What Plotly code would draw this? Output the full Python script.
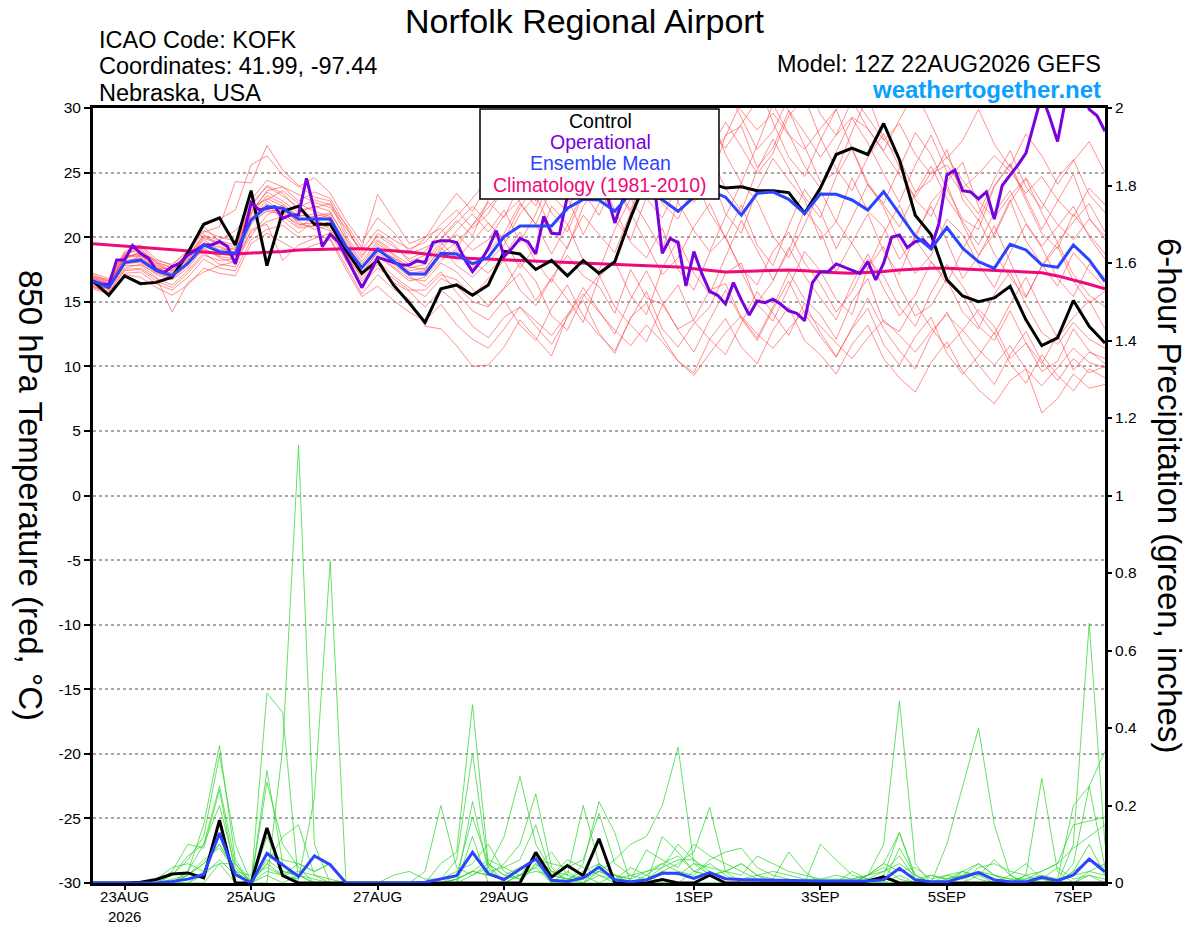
import pandas as pd
import plotly.graph_objects as go
from plotly.subplots import make_subplots

# 6-hourly GEFS output from 12Z 22AUG2026, operational run is 3-hourly
times = pd.date_range("2026-08-22 12:00", periods=65, freq="6h")
times_op = pd.date_range("2026-08-22 12:00", periods=129, freq="3h")

tick_dates = ["2026-08-23", "2026-08-25", "2026-08-27", "2026-08-29",
              "2026-09-01", "2026-09-03", "2026-09-05", "2026-09-07"]
tick_labels = ["23AUG<br>2026", "25AUG", "27AUG", "29AUG", "1SEP", "3SEP", "5SEP", "7SEP"]

temp_ticks = [-30, -25, -20, -15, -10, -5, 0, 5, 10, 15, 20, 25, 30]
temp_tick_text = ["-30", "-25", "-20", "-15", "-10", "-5", "0", "5", "10", "15", "20", "25", "30"]

# 850 hPa temperature (C)
control_t = [
    16.6, 15.5, 17.0, 16.4, 16.5, 16.9, 18.8, 21.0, 21.5, 19.4,
    23.6, 17.8, 22.0, 22.4, 21.0, 21.0, 19.0, 17.2, 18.2, 16.3,
    14.9, 13.4, 16.0, 16.3, 15.5, 16.3, 18.9, 18.7, 17.5, 18.2,
    17.0, 18.2, 17.2, 18.1, 21.5, 24.5, 25.5, 25.2, 25.4, 24.2,
    23.8, 23.9, 23.6, 23.6, 23.45, 21.85, 23.8, 26.4, 26.9, 26.4,
    28.8, 26.0, 21.7, 20.2, 16.7, 15.45, 15.0, 15.3, 16.2, 13.6,
    11.6, 12.2, 15.1, 13.1, 11.8,
]
mean_t = [
    16.61, 16.12, 18.03, 18.24, 17.41, 17.02, 17.98, 19.4, 18.88, 18.75,
    21.33, 22.36, 22.24, 21.41, 21.41, 21.41, 19.27, 17.64, 19.06, 18.16,
    17.15, 17.15, 18.75, 18.7, 17.93, 18.44, 20.04, 20.87, 20.87, 20.87,
    22.24, 22.93, 22.88, 22.0, 23.4, 23.6, 22.9, 22.0, 23.1, 23.6,
    23.1, 21.7, 23.4, 23.5, 22.93, 21.85, 23.34, 23.32, 22.88, 22.1,
    23.52, 21.85, 20.09, 19.09, 20.74, 19.14, 18.1, 17.59, 19.45, 19.01,
    17.85, 17.67, 19.4, 18.24, 16.56,
]
clim_t = [
    19.5, 19.4, 19.3, 19.2, 19.1, 19.0, 18.9, 18.8, 18.75, 18.7,
    18.75, 18.8, 18.9, 19.0, 19.05, 19.1, 19.1, 19.1, 19.05, 18.95,
    18.85, 18.7, 18.5, 18.4, 18.35, 18.3, 18.25, 18.2, 18.15, 18.1,
    18.05, 18.0, 17.95, 17.93, 17.9, 17.85, 17.8, 17.7, 17.55, 17.4,
    17.3, 17.35, 17.4, 17.45, 17.45, 17.4, 17.3, 17.25, 17.2, 17.25,
    17.35, 17.45, 17.55, 17.6, 17.6, 17.55, 17.5, 17.45, 17.4, 17.35,
    17.25, 17.0, 16.7, 16.35, 16.0,
]
oper_t = [
    16.6, 16.4, 16.3, 18.24, 18.24, 19.35, 18.75, 18.37, 17.46, 17.26,
    17.72, 17.98, 18.62, 19.01, 19.4, 19.4, 19.66, 19.27, 17.93, 20.04,
    22.67, 22.11, 22.24, 22.36, 21.46, 21.72, 21.72, 24.56, 22.11, 19.27,
    20.22, 19.66, 18.49, 17.33, 16.09, 17.2, 18.44, 18.24, 18.03, 17.85,
    17.85, 18.18, 18.03, 19.58, 19.73, 19.73, 19.58, 18.29, 17.33, 18.11,
    19.14, 20.5, 18.5, 19.14, 19.9, 19.65, 18.7, 21.6, 20.3, 20.25,
    23.2, 24.2, 24.8, 24.3, 23.6, 23.3, 21.1, 22.9, 24.3, 25.0,
    25.4, 24.0, 18.75, 19.9, 19.58, 16.22, 18.88, 17.2, 15.8, 15.5,
    14.83, 16.48, 15.14, 13.98, 15.06, 14.93, 15.2, 14.8, 14.3, 14.11,
    13.54, 16.48, 17.33, 17.33, 17.93, 17.67, 17.41, 17.2, 18.1, 16.69,
    17.98, 19.99, 20.17, 19.2, 19.65, 19.8, 19.14, 21.07, 24.8, 25.2,
    23.6, 23.5, 22.96, 23.5, 21.4, 24.0, 24.8, 25.6, 26.5, 28.8,
    31.0, 29.3, 27.4, 30.6, 32.0, 31.5, 29.9, 29.4, 28.2,
]

# ensemble members, temperature (first 26 steps, then the rest)
r01 = [16.8, 16.4, 18.3, 18.9, 17.9, 17.3, 18.2, 19.9, 19.5, 19.0, 22.0, 23.5, 22.8, 21.9, 22.4, 22.0, 19.8, 17.9, 19.5, 18.6, 17.6, 17.9, 19.4, 20.2, 19.0, 19.8,
       21.7, 22.9, 23.6, 24.8, 25.9, 27.1, 26.4, 25.3, 27.8, 28.9, 29.5, 27.7, 28.6, 30.4, 31.2, 29.8, 28.3, 29.6, 27.9, 26.8, 28.4, 29.9, 31.0, 29.2, 27.5, 28.8, 26.4, 24.9, 25.6, 23.8, 24.9, 26.3, 25.1, 23.4, 24.7, 22.9, 21.6, 23.8, 22.5]
r02 = [16.2, 15.8, 17.4, 17.5, 16.6, 16.1, 17.2, 18.6, 18.2, 18.3, 20.4, 21.2, 21.6, 20.7, 20.9, 20.5, 18.7, 16.8, 18.2, 17.0, 16.1, 15.4, 16.8, 16.2, 15.0, 14.6,
       16.0, 17.2, 15.1, 16.9, 18.6, 17.0, 16.2, 14.1, 17.5, 15.3, 14.8, 12.9, 13.6, 15.9, 16.4, 13.8, 12.2, 14.6, 17.3, 15.2, 14.0, 12.1, 15.0, 16.8, 13.4, 12.7, 14.9, 13.0, 11.4, 12.8, 14.4, 13.1, 10.6, 11.8, 9.6, 10.4, 12.9, 11.2, 10.2]
r03 = [17.0, 16.7, 18.7, 19.3, 18.1, 17.6, 18.8, 20.4, 20.8, 24.3, 24.2, 27.1, 25.2, 24.0, 23.1, 22.8, 20.4, 19.0, 20.6, 19.8, 19.1, 19.6, 21.0, 22.1, 20.7, 21.8,
       23.9, 24.6, 23.2, 25.5, 26.8, 25.9, 28.2, 27.0, 26.1, 27.4, 29.0, 30.5, 29.2, 28.0, 26.9, 28.7, 30.6, 31.5, 29.8, 28.1, 26.2, 27.9, 29.3, 28.4, 26.6, 24.8, 23.1, 25.0, 26.2, 24.4, 22.8, 21.5, 23.2, 24.6, 22.7, 21.0, 19.8, 21.4, 20.1]
r04 = [16.4, 15.9, 17.8, 17.8, 16.9, 14.2, 16.5, 17.3, 17.8, 18.1, 20.1, 21.7, 22.5, 21.0, 20.8, 21.2, 18.3, 16.6, 17.9, 16.5, 15.8, 14.6, 15.9, 14.9, 13.1, 12.2,
       13.8, 14.6, 13.5, 12.4, 14.0, 15.6, 14.2, 12.8, 11.6, 13.2, 11.9, 10.4, 9.3, 11.0, 12.6, 13.9, 12.5, 11.4, 12.9, 14.3, 13.1, 11.8, 10.6, 12.2, 13.6, 12.4, 11.1, 12.7, 14.0, 12.8, 11.3, 10.1, 11.6, 9.8, 8.5, 9.9, 11.4, 10.3, 9.9]
r05 = [16.9, 16.5, 18.6, 18.5, 17.6, 17.5, 18.7, 20.8, 19.7, 19.4, 22.6, 23.9, 23.2, 22.3, 22.9, 22.5, 21.0, 19.2, 23.3, 21.4, 19.5, 20.0, 20.7, 19.2, 21.0, 22.7,
       21.5, 24.1, 25.3, 23.2, 22.0, 25.0, 26.1, 23.8, 21.9, 24.8, 27.3, 26.0, 22.7, 24.0, 27.9, 28.6, 25.4, 26.9, 29.8, 27.1, 24.3, 25.0, 28.2, 30.9, 27.6, 26.1, 23.5, 24.4, 26.8, 22.9, 21.3, 24.0, 25.7, 23.1, 20.6, 22.8, 24.9, 21.5, 19.8]
r06 = [16.5, 16.1, 18.1, 18.0, 17.1, 16.7, 17.6, 19.2, 18.4, 18.0, 21.0, 22.1, 22.0, 21.2, 20.6, 20.9, 19.1, 17.3, 18.8, 17.9, 17.0, 16.2, 17.3, 15.7, 14.3, 13.6,
       15.1, 13.2, 12.0, 14.5, 16.3, 13.9, 12.4, 11.2, 13.7, 15.8, 12.9, 11.5, 13.3, 14.6, 17.2, 18.0, 14.8, 13.5, 16.1, 18.9, 17.4, 15.2, 14.0, 17.6, 19.3, 16.2, 13.9, 14.7, 16.8, 15.5, 13.1, 12.0, 14.3, 11.8, 10.2, 12.5, 9.7, 11.1, 10.6]
r07 = [16.7, 16.3, 18.5, 18.7, 17.7, 17.1, 18.4, 19.8, 19.0, 19.1, 22.3, 22.9, 23.6, 22.6, 22.0, 21.6, 19.6, 17.7, 19.3, 18.4, 17.4, 17.6, 19.0, 20.5, 21.8, 20.4,
       22.1, 19.6, 21.8, 24.7, 23.1, 20.2, 22.6, 25.8, 26.4, 23.0, 21.5, 24.1, 27.0, 25.2, 21.8, 20.3, 23.7, 26.1, 24.4, 22.9, 19.8, 21.2, 24.6, 22.0, 20.8, 18.3, 19.9, 22.7, 24.1, 21.0, 18.6, 20.3, 22.9, 19.7, 17.9, 16.2, 18.8, 17.4, 16.1]
r08 = [16.3, 16.0, 17.6, 17.9, 17.2, 16.9, 17.9, 19.0, 18.6, 18.9, 21.5, 22.6, 21.3, 20.3, 21.3, 21.8, 18.9, 16.1, 18.5, 17.6, 16.6, 16.9, 18.2, 19.1, 18.1, 17.2,
       18.6, 20.4, 18.1, 16.5, 19.3, 21.7, 20.2, 18.8, 21.9, 19.5, 17.1, 18.4, 20.8, 22.6, 19.9, 17.6, 16.3, 18.9, 20.4, 18.0, 16.4, 14.2, 15.8, 18.3, 17.0, 14.6, 13.1, 15.7, 17.9, 16.2, 14.1, 12.5, 14.8, 16.9, 14.4, 12.2, 13.8, 15.1, 12.9]
r09 = [17.2, 16.8, 18.9, 19.4, 18.3, 17.8, 19.0, 20.5, 20.0, 19.7, 22.9, 24.4, 23.9, 22.8, 23.5, 23.0, 20.9, 18.6, 20.1, 19.3, 18.3, 18.9, 20.4, 21.6, 23.0, 24.5,
       25.9, 23.8, 26.7, 28.3, 25.4, 23.9, 27.2, 29.6, 27.0, 25.1, 28.4, 31.2, 29.0, 26.3, 27.8, 30.5, 32.1, 28.9, 26.2, 24.7, 27.5, 29.9, 26.8, 24.0, 22.6, 25.3, 28.1, 26.4, 23.7, 21.4, 20.6, 23.9, 25.6, 22.8, 20.3, 19.1, 21.8, 20.2, 18.7]
r10 = [16.0, 15.6, 17.2, 17.3, 16.4, 15.9, 16.9, 18.3, 17.6, 17.4, 19.8, 20.6, 20.9, 20.0, 20.1, 19.9, 17.8, 15.6, 17.1, 16.0, 15.2, 13.1, 12.9, 11.6, 10.0, 10.1,
       11.5, 13.6, 12.2, 10.8, 13.9, 15.1, 12.6, 11.0, 13.8, 14.9, 12.3, 10.4, 9.5, 12.1, 13.7, 11.5, 10.2, 12.8, 14.6, 12.0, 10.9, 9.4, 11.7, 13.2, 10.6, 9.1, 8.0, 10.3, 11.9, 9.6, 8.2, 7.1, 8.9, 9.8, 6.4, 7.5, 9.4, 8.3, 8.6]
r11 = [16.6, 16.2, 18.2, 18.4, 17.5, 17.2, 18.3, 19.6, 19.2, 18.7, 21.8, 23.2, 22.6, 21.6, 21.8, 21.5, 19.4, 17.6, 19.0, 18.1, 17.2, 17.4, 18.7, 19.6, 20.9, 22.3,
       23.7, 25.1, 22.8, 24.9, 27.3, 26.0, 28.7, 30.2, 27.4, 29.8, 32.0, 30.1, 27.6, 28.9, 31.7, 29.3, 26.8, 28.2, 30.8, 32.4, 29.5, 27.9, 30.6, 28.4, 26.7, 29.1, 31.3, 28.8, 26.1, 27.5, 29.9, 27.2, 25.4, 28.0, 26.3, 24.1, 25.9, 27.4, 25.0]
r12 = [16.1, 15.7, 17.5, 17.6, 16.8, 16.3, 17.4, 18.8, 17.9, 17.7, 20.6, 21.0, 18.2, 19.4, 19.9, 20.3, 18.2, 16.3, 17.6, 16.8, 15.9, 15.9, 17.1, 16.7, 15.4, 16.8,
       18.2, 15.9, 14.7, 16.8, 15.2, 13.4, 16.9, 18.1, 15.5, 14.0, 17.6, 19.8, 17.2, 15.6, 18.4, 21.3, 19.0, 16.7, 18.9, 22.1, 20.5, 17.3, 19.6, 21.8, 18.9, 17.1, 20.2, 22.4, 19.7, 16.8, 18.5, 20.9, 18.1, 15.4, 17.7, 19.3, 16.6, 14.9, 15.8]
r13 = [17.1, 16.6, 18.8, 19.0, 18.0, 17.7, 18.6, 20.1, 19.8, 20.5, 21.9, 23.6, 23.9, 23.3, 22.7, 22.3, 20.7, 18.9, 19.8, 18.9, 18.7, 19.2, 19.8, 21.1, 22.4, 21.1,
       19.8, 22.3, 24.1, 21.9, 20.4, 23.3, 25.6, 24.0, 22.1, 25.2, 27.1, 24.8, 23.5, 26.7, 28.9, 27.0, 24.9, 26.5, 29.4, 30.8, 27.7, 25.3, 23.6, 26.2, 28.0, 25.4, 22.9, 21.6, 24.3, 25.8, 22.4, 20.1, 22.7, 24.5, 21.9, 19.6, 21.2, 22.6, 20.4]
r14 = [16.4, 16.0, 17.9, 18.1, 17.3, 16.8, 17.8, 19.5, 18.7, 18.5, 21.2, 22.0, 21.8, 21.0, 21.1, 21.0, 18.5, 17.0, 18.6, 17.7, 16.8, 16.6, 18.0, 17.3, 16.0, 14.7,
       16.1, 18.0, 16.6, 13.9, 12.8, 15.4, 17.1, 14.6, 13.2, 11.9, 14.7, 16.3, 13.5, 12.1, 10.9, 13.4, 15.8, 14.1, 12.4, 14.9, 12.6, 10.8, 12.9, 14.5, 11.7, 10.1, 12.3, 13.8, 11.0, 9.4, 10.8, 12.6, 10.2, 8.7, 10.9, 9.3, 8.1, 9.8, 9.1]
r15 = [16.8, 16.4, 18.4, 18.6, 17.8, 17.4, 18.5, 20.2, 19.3, 18.8, 22.2, 23.0, 22.4, 21.7, 21.6, 21.9, 19.9, 18.1, 19.7, 18.7, 17.9, 18.2, 19.6, 18.3, 19.7, 21.1,
       19.8, 17.6, 19.3, 22.4, 21.0, 18.2, 17.4, 20.6, 23.0, 21.1, 19.0, 22.8, 24.6, 21.9, 20.0, 22.5, 19.4, 17.8, 20.9, 23.7, 22.0, 19.1, 21.5, 24.1, 22.3, 19.6, 17.2, 18.6, 21.4, 20.2, 17.9, 16.1, 18.8, 21.0, 19.2, 16.8, 15.4, 17.9, 16.9]
r16 = [16.6, 16.3, 18.0, 18.3, 17.5, 17.0, 18.1, 19.3, 18.8, 18.6, 21.4, 22.5, 22.1, 21.3, 21.6, 21.3, 19.2, 17.5, 19.2, 18.2, 17.3, 17.0, 18.5, 18.9, 17.6, 18.9,
       20.3, 22.6, 21.0, 18.7, 20.9, 23.5, 24.8, 22.1, 19.6, 18.4, 20.7, 17.5, 15.9, 18.8, 20.1, 17.3, 14.9, 16.6, 19.2, 17.0, 15.3, 13.6, 16.4, 18.7, 16.0, 13.9, 15.5, 18.1, 16.7, 14.2, 12.9, 15.6, 17.3, 14.8, 12.6, 11.7, 13.4, 12.1, 11.4]
r17 = [16.5, 16.0, 17.9, 18.6, 17.6, 17.2, 18.0, 19.1, 18.5, 18.3, 21.7, 22.8, 21.9, 20.8, 21.5, 20.6, 18.8, 17.1, 18.9, 18.4, 17.7, 17.5, 19.2, 17.8, 16.9, 18.1,
       19.4, 21.8, 23.2, 20.6, 19.1, 22.4, 24.0, 21.3, 19.8, 23.1, 25.4, 22.7, 20.5, 18.9, 21.6, 24.2, 22.8, 20.1, 18.4, 21.0, 23.6, 21.2, 19.5, 17.6, 20.3, 22.5, 19.8, 18.1, 16.4, 19.0, 21.4, 18.7, 16.9, 15.3, 17.8, 19.6, 17.1, 15.5, 14.6]
r18 = [16.9, 16.6, 18.4, 18.8, 18.2, 17.9, 18.9, 20.9, 21.4, 22.1, 25.6, 26.3, 24.8, 23.9, 24.6, 23.4, 21.3, 19.6, 21.5, 20.4, 18.9, 19.9, 21.8, 23.4, 22.0, 24.1,
       26.3, 23.9, 22.4, 25.7, 27.4, 24.6, 23.1, 26.8, 28.5, 25.3, 22.9, 24.7, 27.6, 29.8, 26.4, 24.2, 27.1, 30.3, 28.0, 25.5, 23.8, 26.6, 29.2, 27.3, 24.9, 22.7, 25.6, 27.9, 25.1, 23.4, 21.8, 24.5, 26.7, 23.9, 22.2, 24.6, 26.0, 23.3, 21.9]
r19 = [16.2, 15.7, 17.1, 16.9, 16.1, 15.5, 16.3, 17.6, 17.2, 17.0, 19.5, 20.3, 19.6, 18.9, 19.4, 19.8, 17.5, 15.4, 16.2, 15.1, 14.2, 13.5, 14.8, 13.2, 12.1, 11.4,
       12.9, 14.6, 13.1, 11.7, 13.8, 16.1, 14.3, 12.5, 15.2, 17.4, 15.0, 12.8, 11.1, 13.6, 15.9, 13.7, 12.0, 14.4, 16.6, 14.1, 12.3, 10.7, 13.0, 15.3, 12.9, 11.2, 9.8, 12.4, 14.2, 11.9, 10.1, 8.6, 10.9, 12.7, 10.4, 8.9, 10.6, 9.5, 10.0]
r20 = [16.7, 16.2, 18.6, 19.1, 18.0, 17.4, 18.5, 20.0, 19.6, 19.2, 22.4, 24.0, 23.4, 22.1, 22.3, 22.6, 20.1, 18.4, 20.3, 19.5, 18.1, 18.6, 19.9, 21.3, 20.1, 22.9,
       24.4, 22.7, 21.0, 23.8, 25.9, 23.5, 21.7, 24.3, 26.8, 25.0, 22.6, 21.4, 24.0, 26.3, 23.8, 22.0, 25.2, 27.6, 25.3, 23.1, 21.5, 24.7, 26.9, 24.2, 22.5, 20.8, 23.4, 25.5, 23.0, 21.2, 19.4, 21.9, 23.6, 21.1, 19.3, 20.8, 22.4, 20.0, 18.3]
red_members = [r01, r02, r03, r04, r05, r06, r07, r08, r09, r10,
               r11, r12, r13, r14, r15, r16, r17, r18, r19, r20]

# 6-hour precipitation (inches)
control_p = [
    0, 0, 0, 0.002, 0.009, 0.023, 0.026, 0.013, 0.162, 0,
    0, 0.142, 0.019, 0, 0, 0, 0, 0, 0, 0,
    0, 0, 0, 0, 0, 0, 0, 0, 0.079, 0.015,
    0.045, 0.019, 0.114, 0, 0, 0, 0.009, 0, 0, 0.02,
    0, 0, 0, 0, 0, 0, 0, 0, 0, 0.005,
    0.016, 0, 0, 0, 0, 0, 0, 0, 0, 0,
    0, 0, 0, 0, 0,
]
mean_p = [
    0, 0, 0, 0, 0, 0.004, 0.01, 0.022, 0.129, 0.022,
    0, 0.076, 0.047, 0.017, 0.07, 0.047, 0, 0, 0, 0,
    0, 0.002, 0.01, 0.019, 0.079, 0.024, 0.009, 0.036, 0.062, 0.007,
    0.004, 0.013, 0.041, 0.008, 0.003, 0.008, 0.025, 0.025, 0.012, 0.027,
    0.011, 0.009, 0.008, 0.008, 0.006, 0.005, 0.005, 0.005, 0.005, 0.005,
    0.008, 0.038, 0.008, 0.003, 0.003, 0.016, 0.027, 0.008, 0.003, 0.003,
    0.015, 0.006, 0.021, 0.062, 0.029,
]

g01 = [0, 0, 0, 0, 0, 0, 0, 0, 0.05, 0, 0, 0, 0.35,
       1.13, 0.10, 0, 0, 0, 0, 0, 0, 0, 0, 0, 0.12, 0,
       0, 0.02, 0.04, 0, 0.03, 0, 0.05, 0, 0, 0.02, 0, 0, 0,
       0, 0, 0, 0, 0.01, 0, 0, 0, 0, 0, 0.02, 0.1, 0.47,
       0.05, 0, 0, 0, 0, 0, 0, 0, 0, 0, 0.03, 0.1, 0.02]
g02 = [0, 0, 0, 0, 0, 0, 0.02, 0.05, 0.1, 0.03, 0, 0.05, 0.02,
       0.01, 0.22, 0.83, 0, 0, 0, 0, 0, 0, 0, 0, 0, 0,
       0, 0, 0, 0, 0, 0, 0.03, 0.06, 0.1, 0.12, 0.2, 0.35, 0.05,
       0.02, 0, 0, 0, 0, 0, 0, 0, 0, 0, 0, 0, 0,
       0, 0, 0.1, 0.25, 0.40, 0.15, 0.02, 0, 0, 0, 0, 0.02, 0]
g03 = [0, 0, 0, 0, 0, 0, 0, 0.03, 0.12, 0.02, 0, 0.49, 0.44,
       0, 0, 0, 0, 0, 0, 0, 0, 0, 0.05, 0.08, 0.46, 0.05,
       0, 0, 0.05, 0, 0, 0.02, 0, 0, 0, 0, 0, 0, 0.03,
       0.05, 0.02, 0, 0, 0, 0, 0, 0, 0, 0, 0, 0, 0,
       0, 0, 0, 0, 0, 0, 0, 0.02, 0.27, 0.03, 0, 0, 0]
g04 = [0, 0, 0, 0, 0, 0, 0.03, 0.15, 0.355, 0.06, 0, 0.29, 0.05,
       0, 0, 0, 0, 0, 0, 0, 0, 0, 0, 0.01, 0.03, 0.02,
       0.05, 0.1, 0.23, 0.04, 0, 0, 0, 0.02, 0, 0, 0, 0, 0,
       0, 0, 0, 0, 0, 0, 0, 0, 0, 0, 0, 0.02, 0.13,
       0.01, 0, 0, 0, 0, 0, 0, 0, 0, 0, 0.1, 0.67, 0.1]
g05 = [0, 0, 0, 0, 0, 0.02, 0.06, 0.12, 0.33, 0.1, 0, 0.02, 0,
       0.02, 0, 0, 0, 0, 0, 0, 0, 0, 0, 0, 0.02, 0.04,
       0.12, 0.275, 0.1, 0.03, 0.01, 0, 0.02, 0, 0, 0, 0.03, 0.05, 0.08,
       0.195, 0.03, 0, 0, 0, 0, 0, 0, 0, 0, 0.02, 0.05, 0.13,
       0.02, 0, 0, 0, 0.02, 0, 0, 0, 0, 0, 0, 0.03, 0.02]
g06 = [0, 0, 0, 0, 0, 0.02, 0.07, 0.1, 0.25, 0.05, 0, 0.26, 0.1,
       0.04, 0, 0, 0, 0, 0, 0, 0, 0, 0.01, 0.06, 0.335, 0.04,
       0, 0.02, 0.07, 0, 0, 0.05, 0.21, 0.13, 0, 0.01, 0.04, 0.1, 0.06,
       0.02, 0, 0, 0, 0, 0, 0, 0, 0, 0, 0, 0, 0,
       0, 0, 0, 0.03, 0.05, 0.02, 0, 0, 0, 0, 0.05, 0.25, 0.34]
g07 = [0, 0, 0, 0, 0, 0.03, 0.1, 0.09, 0.24, 0.02, 0, 0.06, 0.03,
       0.02, 0.01, 0, 0, 0, 0, 0, 0, 0.03, 0.20, 0.04, 0.02, 0.05,
       0.02, 0.01, 0.07, 0.03, 0.02, 0.2, 0.05, 0.02, 0, 0, 0.12, 0.08, 0.03,
       0.02, 0.03, 0.05, 0.02, 0, 0, 0, 0, 0, 0, 0, 0, 0.09,
       0.02, 0, 0, 0, 0.04, 0.05, 0.03, 0.02, 0, 0.01, 0.2, 0.25, 0.04]
g08 = [0, 0, 0, 0, 0, 0, 0.03, 0.1, 0.2, 0.04, 0, 0.05, 0.12,
       0.15, 0.02, 0, 0, 0, 0, 0, 0, 0, 0, 0, 0.21, 0.03,
       0.04, 0.06, 0.15, 0.02, 0.01, 0.03, 0.05, 0.02, 0.01, 0.085, 0.06, 0.04, 0.1,
       0.07, 0.05, 0.03, 0.01, 0.01, 0, 0, 0.1, 0.06, 0.02, 0.01, 0.03, 0.05,
       0.02, 0, 0.02, 0.03, 0.01, 0, 0.02, 0.05, 0.01, 0, 0.03, 0.06, 0.04]
g09 = [0, 0, 0, 0, 0.01, 0.04, 0.05, 0.03, 0.05, 0.05, 0, 0.12, 0.03,
       0.02, 0, 0, 0, 0, 0, 0, 0, 0, 0, 0.01, 0.03, 0.06,
       0.04, 0.02, 0.03, 0.02, 0.06, 0.04, 0.02, 0.01, 0.02, 0.01, 0.03, 0.02, 0.05,
       0.04, 0.03, 0.02, 0.07, 0.05, 0.03, 0.02, 0.01, 0.02, 0.01, 0.02, 0.05, 0.03,
       0.04, 0.01, 0.02, 0.01, 0.03, 0.02, 0.01, 0.01, 0.03, 0.05, 0.09, 0.12, 0.15]
g10 = [0, 0, 0, 0, 0, 0, 0, 0.02, 0.06, 0.02, 0, 0.08, 0.06,
       0.05, 0.03, 0.05, 0, 0, 0, 0, 0, 0, 0, 0.02, 0.17, 0.05,
       0.02, 0.04, 0.06, 0.05, 0.04, 0.06, 0.18, 0.05, 0.02, 0.03, 0.05, 0.03, 0.02,
       0.06, 0.08, 0.09, 0.04, 0.02, 0.01, 0, 0, 0, 0.03, 0.01, 0, 0.02,
       0, 0, 0.01, 0.03, 0.02, 0.06, 0.02, 0, 0.01, 0.04, 0.01, 0.02, 0.01]
g11 = [0, 0, 0, 0, 0, 0, 0.02, 0.06, 0.09, 0.03, 0, 0.03, 0.02,
       0.05, 0.03, 0.05, 0, 0, 0, 0.02, 0.03, 0.01, 0.01, 0.03, 0.05, 0.1,
       0.03, 0.01, 0.05, 0.02, 0.01, 0.02, 0.03, 0.01, 0.04, 0.02, 0.05, 0.07, 0.03,
       0.02, 0.03, 0.05, 0.02, 0.01, 0.08, 0.03, 0, 0, 0, 0.02, 0.04, 0.01,
       0, 0.02, 0.01, 0.02, 0.03, 0.01, 0, 0.02, 0.03, 0.05, 0.15, 0.16, 0.17]
g12 = [0, 0, 0, 0, 0, 0.01, 0.02, 0.05, 0.1, 0.03, 0.02, 0.04, 0.02,
       0.03, 0.02, 0.01, 0, 0, 0, 0, 0, 0, 0, 0.01, 0.03, 0.02,
       0.01, 0.02, 0.04, 0.08, 0.02, 0.01, 0.03, 0.02, 0.01, 0.03, 0.04, 0.06, 0.06,
       0.03, 0.01, 0.01, 0.02, 0.03, 0.02, 0.01, 0.01, 0.01, 0.01, 0.02, 0.03, 0.07,
       0.01, 0.02, 0.01, 0.02, 0.05, 0.02, 0.01, 0.01, 0.02, 0.01, 0.02, 0.03, 0.05]
green_members = [g01, g02, g03, g04, g05, g06, g07, g08, g09, g10, g11, g12]

FONT = "Liberation Sans, Arial, sans-serif"
C_CONTROL = "black"
C_OPER = "#7a00dd"
C_MEAN = "#2a44ff"
C_CLIM = "#ee0a7a"

# plot frame in page pixels: x 93..1105, y 108..883
def paper_x(px):
    return (px - 93) / 1012


def paper_y(py):
    return (883 - py) / 775


fig = make_subplots(specs=[[{"secondary_y": True}]])

# precipitation members (right axis)
for member in green_members:
    fig.add_trace(
        go.Scatter(x=times, y=member, mode="lines",
                   line=dict(color="rgba(40,215,40,0.9)", width=0.8), hoverinfo="skip"),
        secondary_y=True,
    )

# temperature members
for member in red_members:
    fig.add_trace(
        go.Scatter(x=times, y=member, mode="lines",
                   line=dict(color="rgba(255,70,70,0.75)", width=0.8), hoverinfo="skip"),
        secondary_y=False,
    )

fig.add_trace(go.Scatter(x=times, y=control_p, mode="lines", line=dict(color=C_CONTROL, width=3)),
              secondary_y=True)
fig.add_trace(go.Scatter(x=times, y=mean_p, mode="lines", line=dict(color=C_MEAN, width=3)),
              secondary_y=True)

fig.add_trace(go.Scatter(x=times, y=clim_t, mode="lines", line=dict(color=C_CLIM, width=3)),
              secondary_y=False)
fig.add_trace(go.Scatter(x=times, y=control_t, mode="lines", line=dict(color=C_CONTROL, width=3)),
              secondary_y=False)
fig.add_trace(go.Scatter(x=times_op, y=oper_t, mode="lines", line=dict(color=C_OPER, width=3)),
              secondary_y=False)
fig.add_trace(go.Scatter(x=times, y=mean_t, mode="lines", line=dict(color=C_MEAN, width=3)),
              secondary_y=False)

fig.update_xaxes(
    domain=[0, 1],
    automargin=False,
    range=[times[0], times[-1]],
    tickvals=tick_dates,
    ticktext=tick_labels,
    ticks="outside", ticklen=4, tickwidth=1.5, tickcolor="black",
    ticklabelstandoff=-6,
    showline=True, mirror=True, linewidth=3, linecolor="black",
    showgrid=False, zeroline=False,
    tickfont=dict(size=15, color="black"),
)
fig.update_yaxes(
    automargin=False,
    range=[-30, 30],
    tickvals=temp_ticks, ticktext=temp_tick_text,
    ticks="outside", ticklen=6, tickwidth=1.5, tickcolor="black",
    showline=True, mirror=True, linewidth=3, linecolor="black",
    showgrid=True, gridcolor="#a8a8a8", griddash="dot", gridwidth=1.5,
    zeroline=False, tickfont=dict(size=15.5, color="black"),
    secondary_y=False,
)
fig.update_yaxes(
    automargin=False,
    range=[0, 2], tick0=0, dtick=0.2,
    ticks="outside", ticklen=6, tickwidth=1.5, tickcolor="black",
    showline=False, showgrid=False, zeroline=False,
    tickfont=dict(size=15.5, color="black"),
    secondary_y=True,
)

# legend box
fig.add_shape(type="rect", xref="paper", yref="paper",
              x0=paper_x(480), x1=paper_x(719), y0=paper_y(199), y1=paper_y(109),
              fillcolor="white", line=dict(color="black", width=1.5), layer="above")

legend_rows = [
    ("Control", C_CONTROL, 121),
    ("Operational", C_OPER, 142),
    ("Ensemble Mean", C_MEAN, 163),
    ("Climatology (1981-2010)", C_CLIM, 185),
]
annotations = []
for text, color, py in legend_rows:
    annotations.append(dict(text=text, x=paper_x(600), y=paper_y(py),
                            xanchor="center", yanchor="middle",
                            font=dict(size=19.5, color=color)))

annotations += [
    dict(text="Norfolk Regional Airport", x=paper_x(585), y=paper_y(20.5),
         xanchor="center", yanchor="middle", font=dict(size=34)),
    dict(text="ICAO Code: KOFK", x=paper_x(97), y=paper_y(40),
         xanchor="left", yanchor="middle", font=dict(size=23.5)),
    dict(text="Coordinates: 41.99, -97.44", x=paper_x(97), y=paper_y(66),
         xanchor="left", yanchor="middle", font=dict(size=23.5)),
    dict(text="Nebraska, USA", x=paper_x(97), y=paper_y(93),
         xanchor="left", yanchor="middle", font=dict(size=23.5)),
    dict(text="Model: 12Z 22AUG2026 GEFS", x=paper_x(1103), y=paper_y(64),
         xanchor="right", yanchor="middle", font=dict(size=23.5)),
    dict(text="<b>weathertogether.net</b>", x=paper_x(1103), y=paper_y(89),
         xanchor="right", yanchor="middle", font=dict(size=24, color="#0aa0ff")),
    dict(text="850 hPa Temperature (red, \u00b0C)", x=paper_x(31), y=paper_y(495),
         xanchor="center", yanchor="middle", textangle=90, font=dict(size=33)),
    dict(text="6-hour Precipitation (green, inches)", x=paper_x(1170), y=paper_y(495),
         xanchor="center", yanchor="middle", textangle=90, font=dict(size=33)),
]
for a in annotations:
    a.setdefault("xref", "paper")
    a.setdefault("yref", "paper")
    a.setdefault("showarrow", False)
    a["font"].setdefault("family", FONT)
    a["font"].setdefault("color", "black")

fig.update_layout(
    width=1200,
    height=927,
    margin=dict(l=93, r=95, t=108, b=44),
    plot_bgcolor="white",
    paper_bgcolor="white",
    showlegend=False,
    font=dict(family=FONT, color="black"),
    annotations=annotations,
)

# drop the default 8px page margin so the figure fills the window exactly
fig.write_html("out.html", config={"displayModeBar": False},
               post_script="document.body.style.margin = '0px';")
